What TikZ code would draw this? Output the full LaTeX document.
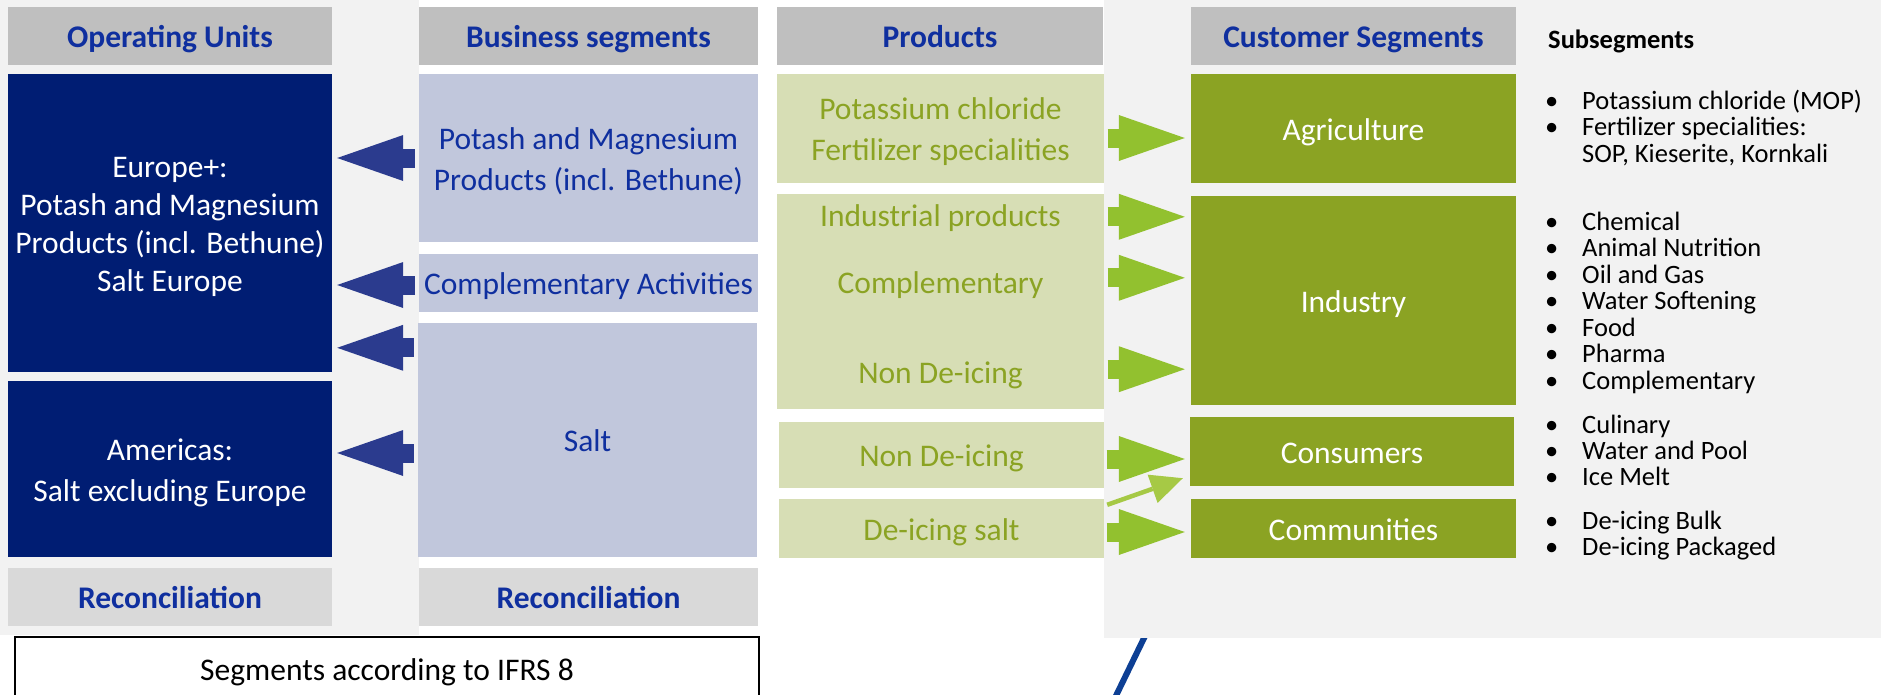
\documentclass[tikz,border=0pt]{standalone}
\usepackage{fontspec}
\setmainfont{Carlito}
\usetikzlibrary{arrows.meta}

\definecolor{hdgray}{HTML}{BFBFBF}
\definecolor{recgray}{HTML}{D9D9D9}
\definecolor{panelgray}{HTML}{F2F2F2}
\definecolor{unitnavy}{HTML}{001D73}
\definecolor{seglilac}{HTML}{C1C7DC}
\definecolor{ttlblue}{HTML}{0F2F9F}
\definecolor{arrblue}{HTML}{2B3B8E}
\definecolor{prodpale}{HTML}{D7DEB5}
\definecolor{custolive}{HTML}{8BA323}
\definecolor{arrgreen}{HTML}{92C12F}
\definecolor{thingreen}{HTML}{A6C945}
\definecolor{lineblue}{HTML}{0D3F94}

\newcommand\bigfont{\fontsize{31.5}{38}\selectfont}
\newcommand\subfont{\fontsize{26.5}{26.5}\selectfont}
\newcommand\linestrut{\rule[-0.26em]{0pt}{1.26em}}

\tikzset{
  box/.style={inner sep=0pt, align=center, font=\bigfont,
    execute at begin node=\linestrut, execute at end node=\linestrut},
  head/.style={box, fill=hdgray, text=ttlblue, font=\bigfont\bfseries, minimum height=58pt},
  recon/.style={box, fill=recgray, text=ttlblue, font=\bigfont\bfseries, minimum height=58pt},
  unit/.style={box, fill=unitnavy, text=white, minimum width=324pt},
  seg/.style={box, fill=seglilac, text=ttlblue, minimum width=339pt},
  prod/.style={box, fill=prodpale, text=custolive, minimum width=327pt},
  prodtxt/.style={box, text=custolive},
  cust/.style={box, fill=custolive, text=white, minimum width=325pt},
  item/.style={anchor=base west, inner sep=0pt, font=\subfont},
  barrow/.style={draw=arrblue, line width=19pt, -{Triangle[length=66pt,width=46pt,line width=0pt]}},
  garrow/.style={draw=arrgreen, line width=19pt, -{Triangle[length=66pt,width=46pt,line width=0pt]}},
  thinarrow/.style={draw=thingreen, line width=4.5pt, -{Triangle[length=32pt,width=30pt,line width=0pt]}}
}

\begin{document}
\begin{tikzpicture}[x=1pt,y=-1pt]
\useasboundingbox (0,0) rectangle (1881,694);

\draw[lineblue, line width=6pt] (1145,636) -- (1111,706);
\fill[panelgray] (0,0) rectangle (419,635);
\fill[panelgray] (1104,0) rectangle (1881,638);

\node[head, minimum width=324pt] (ou) at (170,36) {Operating Units};
\node[unit, minimum height=298pt] (eur) at (170,223) {\linestrut Europe+:\\Potash and Magnesium\\Products (incl. Bethune)\\Salt Europe\linestrut};
\node[unit, minimum height=176pt] (amer) at (170,469) {\linestrut Americas:\\Salt excluding Europe\linestrut};
\node[recon, minimum width=324pt] (rec1) at (170,597) {Reconciliation};

\node[head, minimum width=339pt] (bs) at (588.5,36) {Business segments};
\node[seg, minimum height=168pt] (pot) at (588.5,158) {\linestrut Potash and Magnesium\\Products (incl. Bethune)\linestrut};
\node[seg, minimum height=58pt] (comp) at (588.5,283) {Complementary Activities};
\node[seg, minimum height=234pt] (salt) at (587.5,440) {Salt};
\node[recon, minimum width=339pt] (rec2) at (588.5,597) {Reconciliation};

\node[head, minimum width=326pt] (pr) at (940,36) {Products};
\node[prod, minimum height=109pt] (potc) at (940.5,128.5) {\linestrut Potassium chloride\\Fertilizer specialities\linestrut};
\node[prod, minimum height=215pt] (indus) at (940.5,301.5) {};
\node[prodtxt] (indp) at (940.5,215) {Industrial products};
\node[prodtxt] (compl) at (940.5,282) {Complementary};
\node[prodtxt] (ndi1) at (940.5,372) {Non De-icing};
\node[prod, minimum width=325pt, minimum height=66pt] (nondi) at (941.5,455) {Non De-icing};
\node[prod, minimum width=325pt, minimum height=59pt] (deice) at (941.5,528.5) {De-icing salt};

\node[head, minimum width=325pt] (cs) at (1353.5,36) {Customer Segments};
\node[cust, minimum height=109pt] (agri) at (1353.5,128.5) {Agriculture};
\node[cust, minimum height=209pt] (ind) at (1353.5,300.5) {Industry};
\node[cust, minimum width=324pt, minimum height=69pt] (cons) at (1352,451.5) {Consumers};
\node[cust, minimum height=59pt] (comm) at (1353.5,528.5) {Communities};

\node[item, font=\subfont\bfseries] (subh) at (1548,48.3) {Subsegments};
\foreach \yy/\txt [count=\i] in {109/Potassium chloride (MOP), 135.5/Fertilizer specialities:,
    230/Chemical, 256.5/Animal Nutrition, 283/Oil and Gas, 309.5/Water Softening, 336/Food,
    362.5/Pharma, 389/Complementary, 433.3/Culinary, 459.5/Water and Pool, 485.7/Ice Melt,
    529.3/De-icing Bulk, 555.5/De-icing Packaged}
  \node[item] (s\i) at (1545,\yy) {\makebox[37pt][l]{\textbullet}\txt};
\node[item] (sop) at (1582,162) {SOP, Kieserite, Kornkali};

\node[box, draw=black, line width=1.5pt, fill=white, minimum width=744pt, minimum height=63pt] (ifrs) at (387,668.5) {Segments according to IFRS 8};

\coordinate (b1) at ([xshift=-4pt]pot.west);
\coordinate (b2) at ([shift={(-4,2)}]comp.west);
\coordinate (b3) at ([shift={(-4,25)}]salt.north west);
\coordinate (b4) at ([shift={(-4,13)}]salt.west);
\path (b1) edge[barrow] ([xshift=5pt]eur.east |- b1);
\path (b2) edge[barrow] ([xshift=5pt]eur.east |- b2);
\path (b3) edge[barrow] ([xshift=5pt]eur.east |- b3);
\path (b4) edge[barrow] ([xshift=5pt]amer.east |- b4);

\coordinate (g1) at ([shift={(3.5,9.5)}]potc.east);
\coordinate (g2) at ([shift={(3.5,23)}]indus.north east);
\coordinate (g3) at ([shift={(3.5,84)}]indus.north east);
\coordinate (g4) at ([shift={(3.5,-40)}]indus.south east);
\coordinate (g5) at ([shift={(2.5,4)}]nondi.east);
\coordinate (g6) at ([shift={(2.5,3.5)}]deice.east);
\path (g1) edge[garrow] ([xshift=-6pt]agri.west |- g1);
\path (g2) edge[garrow] ([xshift=-6pt]ind.west |- g2);
\path (g3) edge[garrow] ([xshift=-6pt]ind.west |- g3);
\path (g4) edge[garrow] ([xshift=-6pt]ind.west |- g4);
\path (g5) edge[garrow] ([xshift=-5pt]cons.west |- g5);
\path (g6) edge[garrow] ([xshift=-6pt]comm.west |- g6);

\coordinate (d1) at ([shift={(3,6)}]deice.north east);
\coordinate (d2) at ([shift={(-7,-8)}]cons.south west);
\path (d1) edge[thinarrow] (d2);
\end{tikzpicture}
\end{document}
